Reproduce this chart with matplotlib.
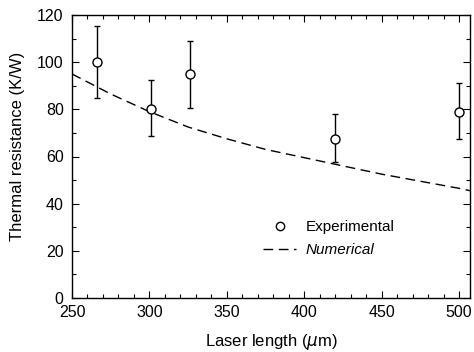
import numpy as np
import matplotlib.pyplot as plt
from matplotlib.ticker import MultipleLocator
from matplotlib.lines import Line2D

plt.rcParams['font.family'] = ['Liberation Sans', 'DejaVu Sans']

# experimental points
exp_length = [266, 301, 326, 420, 500]
exp_resist = [100, 80, 95, 67.5, 79]
exp_lower = [85, 68.5, 80.5, 57.5, 67.5]
exp_upper = [115.5, 92.5, 109, 78, 91]

# numerical curve
num_length = [250, 275, 300, 325, 350, 375, 400, 425, 450, 475, 500, 507]
num_resist = [95, 86.5, 79, 72.5, 67.5, 63, 59.5, 56, 52.5, 49.5, 46.5, 45.5]

exp_length = np.array(exp_length)
exp_resist = np.array(exp_resist)
yerr = [exp_resist - np.array(exp_lower), np.array(exp_upper) - exp_resist]

fig = plt.figure(figsize=(4.74, 3.52), dpi=100)
ax = fig.add_axes([72/474, 1 - 298/352, 398/474, 283/352])

ax.plot(num_length, num_resist, color='black', lw=1.0, dashes=(7, 4))
ax.errorbar(exp_length, exp_resist, yerr=yerr, fmt='o', mfc='white',
            mec='black', ecolor='black', ms=6.5, elinewidth=1.0, capsize=2.5,
            capthick=1.0, zorder=3)

ax.set_xlim(250, 507)
ax.set_ylim(0, 120)
ax.xaxis.set_major_locator(MultipleLocator(50))
ax.xaxis.set_minor_locator(MultipleLocator(10))
ax.yaxis.set_major_locator(MultipleLocator(20))
ax.yaxis.set_minor_locator(MultipleLocator(10))
ax.tick_params(which='both', direction='in', top=True, right=True,
               labelsize=11.5, width=0.8)
ax.tick_params(axis='y', pad=6)
ax.tick_params(axis='x', pad=5)
ax.tick_params(which='major', length=5)
ax.tick_params(which='minor', length=3)
for s in ax.spines.values():
    s.set_linewidth(1.0)

ax.set_xlabel(r'Laser length ($\mu$m)', fontsize=12)
ax.set_ylabel('Thermal resistance (K/W)', fontsize=12)
ax.xaxis.set_label_coords(0.5, -0.12)
ax.yaxis.set_label_coords(-0.118, 0.537)

h_exp = Line2D([], [], ls='none', marker='o', mfc='white', mec='black', ms=6)
h_num = Line2D([], [], color='black', lw=1.0, dashes=(7, 4))
leg = ax.legend([h_exp, h_num], ['Experimental', 'Numerical'], frameon=False,
                loc='center left', bbox_to_anchor=(0.445, 0.21), fontsize=11,
                handlelength=2.2, handletextpad=0.6, labelspacing=0.6)
leg.get_texts()[1].set_style('italic')

fig.savefig('out.png', dpi=100)
